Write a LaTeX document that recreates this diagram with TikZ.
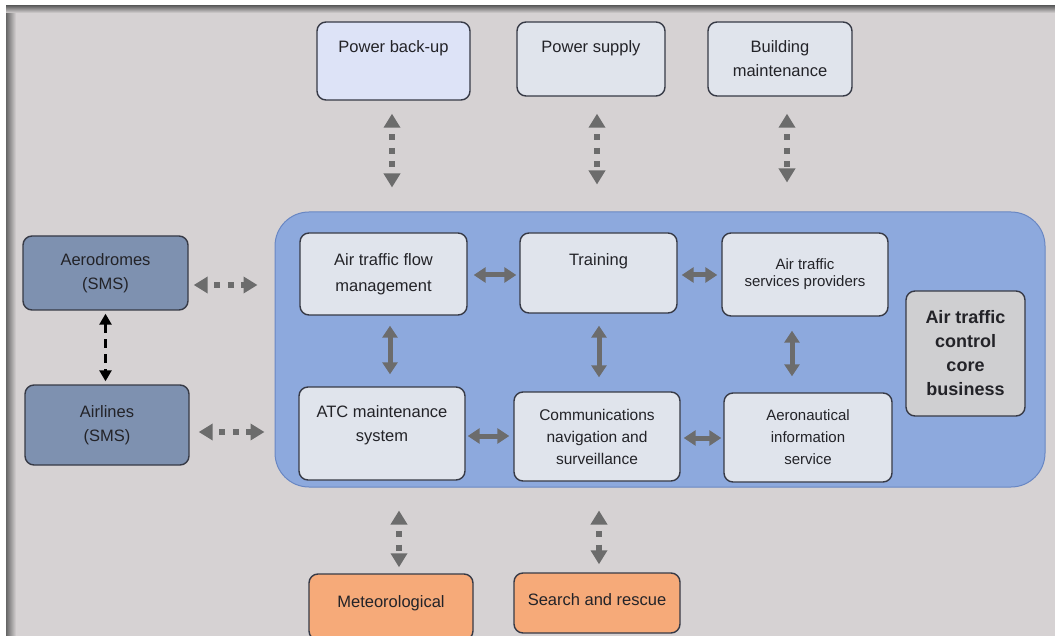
\documentclass[tikz,border=0pt]{standalone}
\usepackage{fontspec}
\setmainfont{Liberation Sans}
\usetikzlibrary{arrows.meta}
\usepackage{xcolor}

\definecolor{bggray}{RGB}{214,210,211}
\definecolor{coreblue}{RGB}{141,169,221}
\definecolor{coreedge}{RGB}{105,135,195}
\definecolor{boxfill}{RGB}{224,228,236}
\definecolor{backupfill}{RGB}{221,227,247}
\definecolor{greyfill}{RGB}{207,207,209}
\definecolor{smsfill}{RGB}{126,145,176}
\definecolor{orangefill}{RGB}{246,170,121}
\definecolor{boxline}{RGB}{55,58,70}
\definecolor{arrgray}{RGB}{108,108,108}
\definecolor{txtgray}{RGB}{35,35,40}

\begin{document}
\begin{tikzpicture}[x=1pt,y=-1pt,
    box/.style={draw=boxline,line width=1.4pt,rounded corners=9pt,align=center,
      inner sep=0pt,text=txtgray,font=\fontsize{16.5}{24}\selectfont},
    lift/.style={text height=12pt,text depth=#1},
    dotarrow/.style={arrgray,line width=5.5pt,dash pattern=on 6pt off 7.5pt,dash phase=6pt,
      {Triangle[width=16pt,length=14pt]}-{Triangle[width=16pt,length=14pt]}},
    solidarrow/.style={arrgray,line width=5pt,
      {Triangle[width=15pt,length=12pt]}-{Triangle[width=15pt,length=12pt]}},
    blackarrow/.style={black,line width=2.5pt,dash pattern=on 9pt off 6pt,
      {Triangle[width=12pt,length=11pt]}-{Triangle[width=12pt,length=11pt]}}]
    \useasboundingbox (0,0) rectangle (1055,636);
    \fill[white] (0,0) rectangle (1055,636);
    \fill[bggray] (6,6) rectangle (1055,636);
    \shade[left color=black!60,right color=bggray] (6,6) rectangle (16,636);
    \shade[top color=black!60,bottom color=bggray] (6,6) rectangle (1055,13);

    % core area
    \node[draw=coreedge,fill=coreblue,line width=1pt,rounded corners=34pt,
      minimum width=770pt,minimum height=275pt] (atc) at (660,349.5) {};

    % support services on top
    \node[box,fill=backupfill,minimum width=153pt,minimum height=78pt,lift=28pt] (pbk) at (393.5,61) {Power back-up};
    \node[box,fill=boxfill,minimum width=148pt,minimum height=74pt,lift=24pt] (psup) at (591,59) {Power supply};
    \node[box,fill=boxfill,minimum width=144pt,minimum height=74pt] (bldg) at (780,59) {Building\\maintenance};

    % inside the core
    \node[box,fill=boxfill,minimum width=167pt,minimum height=82pt,font=\fontsize{16.5}{26}\selectfont] (afm) at (383.5,274) {Air traffic flow\\management};
    \node[box,fill=boxfill,minimum width=157pt,minimum height=80pt,lift=26pt] (trn) at (598.5,273) {Training};
    \node[box,fill=boxfill,minimum width=166pt,minimum height=83pt,font=\fontsize{15}{17}\selectfont] (atsp) at (805,274.5) {Air traffic\\services providers};
    \node[box,fill=greyfill,minimum width=119pt,minimum height=125pt,font=\fontsize{18}{24}\selectfont\bfseries] (core) at (965.5,353.5) {Air traffic\\control\\core\\business};
    \node[box,fill=boxfill,minimum width=166pt,minimum height=93pt,text depth=20pt] (atcm) at (382,433.5) {ATC maintenance\\system};
    \node[box,fill=boxfill,minimum width=166pt,minimum height=89pt,font=\fontsize{15.5}{22}\selectfont] (cns) at (597,436.5) {Communications\\navigation and\\surveillance};
    \node[box,fill=boxfill,minimum width=168pt,minimum height=89pt,font=\fontsize{15}{22}\selectfont] (ais) at (808,437.5) {Aeronautical\\information\\service};

    % left side
    \node[box,fill=smsfill,minimum width=165pt,minimum height=74pt] (aero) at (105.5,273) {Aerodromes\\(SMS)};
    \node[box,fill=smsfill,minimum width=164pt,minimum height=80pt] (airl) at (107,425) {Airlines\\(SMS)};

    % bottom
    \node[box,fill=orangefill,minimum width=164pt,minimum height=66pt,lift=12pt] (met) at (391,607) {Meteorological};
    \node[box,fill=orangefill,minimum width=166pt,minimum height=60pt,lift=8pt] (sar) at (597,603) {Search and rescue};

    % dotted links
    \draw[dotarrow,shorten <=13pt,shorten >=24pt] ([xshift=-1.5pt]pbk.south) -- ([xshift=-1.5pt]pbk.south |- atc.north);
    \draw[dotarrow,shorten <=17pt,shorten >=27pt] ([xshift=6pt]psup.south) -- ([xshift=6pt]psup.south |- atc.north);
    \draw[dotarrow,shorten <=17pt,shorten >=29pt] ([xshift=7pt]bldg.south) -- ([xshift=7pt]bldg.south |- atc.north);
    \draw[dotarrow,shorten <=23pt,shorten >=6pt] ([xshift=8pt]met.north |- atc.south) -- ([xshift=8pt]met.north);
    \draw[dotarrow,shorten <=23pt,shorten >=8pt] ([xshift=2pt]sar.north |- atc.south) -- ([xshift=2pt]sar.north);
    \draw[dotarrow,shorten <=5pt,shorten >=17pt] ([yshift=-12pt]aero.east) -- ([yshift=-12pt]aero.east -| atc.west);
    \draw[dotarrow,shorten <=9pt,shorten >=10pt] ([yshift=-7pt]airl.east) -- ([yshift=-7pt]airl.east -| atc.west);
    \draw[blackarrow,shorten <=3pt,shorten >=3pt] (aero.south) -- (aero.south |- airl.north);

    % solid links
    \draw[solidarrow,shorten <=6pt,shorten >=3pt] ([yshift=-1pt]afm.east) -- ([yshift=-1pt]afm.east -| trn.west);
    \draw[solidarrow,shorten <=4pt,shorten >=4pt] ([yshift=-2pt]trn.east) -- ([yshift=-2pt]trn.east -| atsp.west);
    \draw[solidarrow,shorten <=2pt,shorten >=4pt] ([yshift=-2.5pt]atcm.east) -- ([yshift=-2.5pt]atcm.east -| cns.west);
    \draw[solidarrow,shorten <=3pt,shorten >=2pt] ([yshift=-1.5pt]cns.east) -- ([yshift=-1.5pt]cns.east -| ais.west);
    \draw[solidarrow,shorten <=10pt,shorten >=12pt] ([xshift=6.5pt]afm.south) -- ([xshift=6.5pt]afm.south |- atcm.north);
    \draw[solidarrow,shorten <=12pt,shorten >=14pt] ([xshift=0.5pt]trn.south) -- ([xshift=0.5pt]trn.south |- cns.north);
    \draw[solidarrow,shorten <=14pt,shorten >=16pt] ([xshift=-13pt]atsp.south) -- ([xshift=-13pt]atsp.south |- ais.north);
\end{tikzpicture}
\end{document}
